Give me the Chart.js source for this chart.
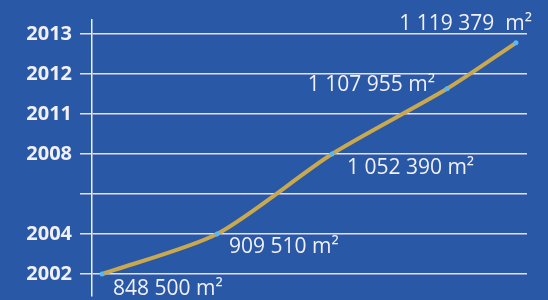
<!DOCTYPE html>
<html>
<head>
<meta charset="utf-8">
<script src="https://cdn.jsdelivr.net/npm/chart.js@4"></script>
<style>
  body { margin: 0; background: #2858a6; }
</style>
</head>
<body>
<canvas id="areaChart" width="548" height="300"></canvas>
<script>
// years shown on the left, one per grid line (one line has no label)
const years = ['2002', '2004', '', '2008', '2011', '2012', '2013'];
// surface reached at each step
const areaLabels = ['848 500 m²', '909 510 m²', '1 052 390 m²', '1 107 955 m²', '1 119 379  m²'];
// where each point sits: step along the line, level against the year lines
const stepX = [0, 1, 2, 3, 3.6];
const levelY = [0, 1, 3, 4.63, 5.78];

const points = stepX.map((x, i) => ({ x: x, y: levelY[i] }));

// label placement next to each point
const labelOffsets = [
    { dx: 11, dy: 21, align: 'left' },
    { dx: 12, dy: 19, align: 'left' },
    { dx: 15, dy: 20, align: 'left' },
    { dx: -12, dy: 2, align: 'right' },
    { dx: 16, dy: -13, align: 'right' }
];

const bgPlugin = {
    id: 'bg',
    beforeDraw(chart) {
        const c = chart.ctx;
        c.save();
        c.fillStyle = '#2858a6';
        c.fillRect(0, 0, chart.width, chart.height);
        c.restore();
    }
};

const valueLabels = {
    id: 'valueLabels',
    afterDatasetsDraw(chart) {
        const c = chart.ctx;
        const meta = chart.getDatasetMeta(0);
        c.save();
        c.font = '21px "Open Sans"';
        c.fillStyle = '#f2f0f7';
        c.textBaseline = 'alphabetic';
        meta.data.forEach((pt, i) => {
            const o = labelOffsets[i];
            c.textAlign = o.align;
            c.fillText(areaLabels[i], pt.x + o.dx, pt.y + o.dy);
        });
        c.restore();
    }
};

const ctx = document.getElementById('areaChart');
new Chart(ctx, {
    type: 'scatter',
    data: {
        datasets: [{
            data: points,
            showLine: true,
            borderColor: '#c9a84e',
            borderWidth: 4,
            tension: 0.25,
            pointRadius: 2.5,
            pointBackgroundColor: '#5ab8ee',
            pointBorderWidth: 0,
            clip: false
        }]
    },
    options: {
        responsive: false,
        animation: false,
        layout: { padding: { top: 20, right: 21, bottom: 0, left: 0 } },
        plugins: {
            legend: { display: false },
            tooltip: { enabled: false }
        },
        scales: {
            x: {
                type: 'linear',
                display: false,
                min: -0.087,
                max: 3.696
            },
            y: {
                type: 'linear',
                min: -0.55,
                max: 6.35,
                afterBuildTicks(scale) {
                    scale.ticks = years.map((_, i) => ({ value: i }));
                },
                afterFit(scale) {
                    scale.width = 92;
                    scale.paddingTop = 0;
                    scale.paddingBottom = 0;
                },
                ticks: {
                    autoSkip: false,
                    padding: 8,
                    color: '#f2f0f7',
                    font: { family: '"Open Sans"', size: 20, weight: 'bold' },
                    callback: (v) => years[v] || ''
                },
                grid: {
                    color: '#ecdcef',
                    lineWidth: 1.5,
                    tickLength: 12
                },
                border: {
                    color: '#eef0f8',
                    width: 1.5
                }
            }
        }
    },
    plugins: [bgPlugin, valueLabels]
});
</script>
</body>
</html>
